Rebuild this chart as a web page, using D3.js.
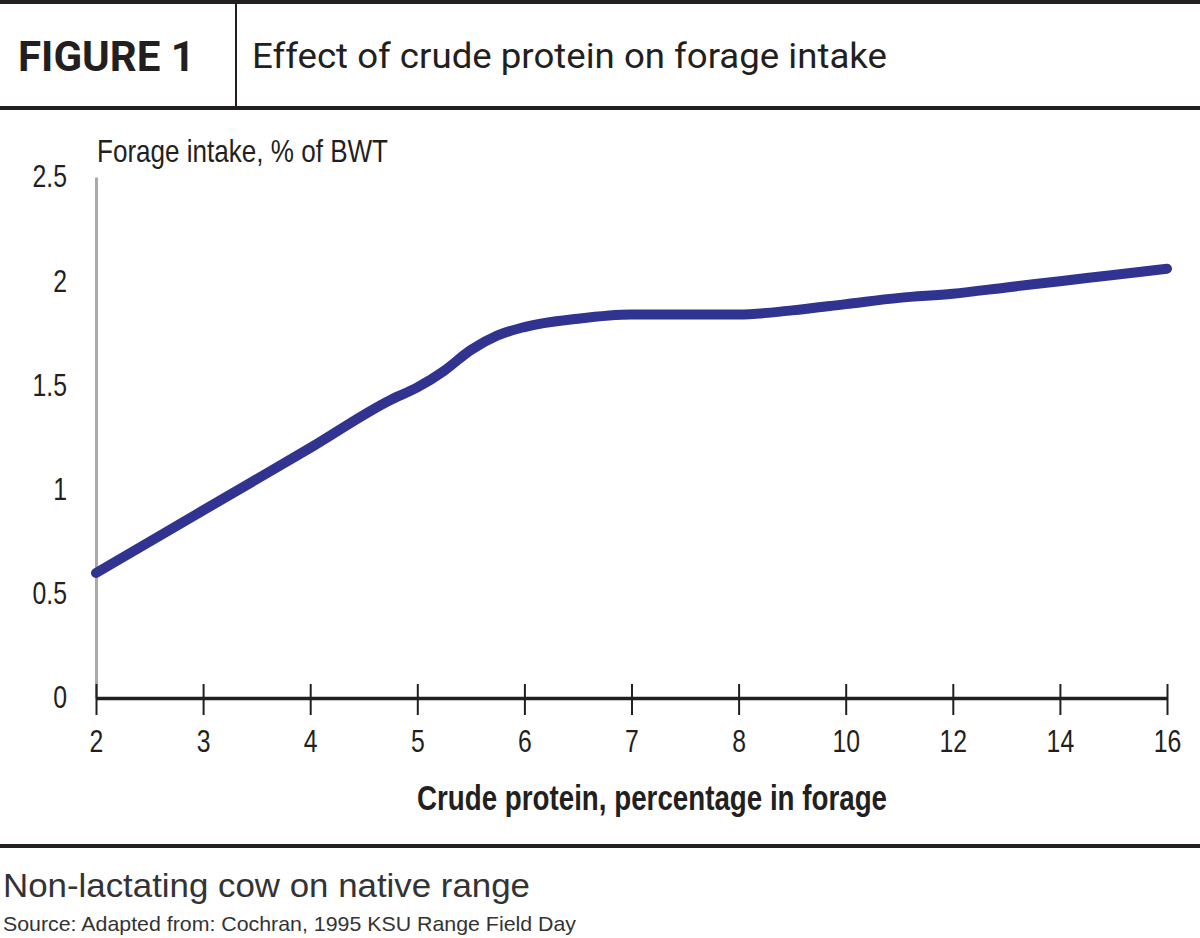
<!DOCTYPE html>
<html>
<head>
<meta charset="utf-8">
<script src="https://cdn.jsdelivr.net/npm/d3@7"></script>
<style>
  html, body { margin: 0; padding: 0; background: #fff; }
  svg { display: block; }
</style>
</head>
<body>
<svg id="chart" width="1200" height="938"></svg>
<script>
// ---- data ----
const xTickValues = [2, 3, 4, 5, 6, 7, 8, 10, 12, 14, 16];
const yTickValues = [0, 0.5, 1, 1.5, 2, 2.5];
const crudeProtein = [2, 3, 4, 4.75, 5, 5.25, 5.5, 5.75, 6, 6.5, 7, 7.75, 8, 9, 10, 11, 12, 13, 14, 15, 16];
const forageIntake = [0.60, 0.90, 1.20, 1.43, 1.49, 1.57, 1.67, 1.74, 1.78, 1.82, 1.84, 1.84, 1.84, 1.86, 1.89, 1.92, 1.94, 1.97, 2.00, 2.03, 2.06];

const figureLabel = "FIGURE 1";
const titleText = "Effect of crude protein on forage intake";
const yAxisTitle = "Forage intake, % of BWT";
const xAxisTitle = "Crude protein, percentage in forage";
const noteText = "Non-lactating cow on native range";
const sourceText = "Source: Adapted from: Cochran, 1995 KSU Range Field Day";

// ---- layout ----
const svg = d3.select("#chart");
const ink = "#231f20";
const lineColor = "#313391";
const narrow = "'Liberation Sans Narrow', 'Liberation Sans', Arial, sans-serif";

const plotLeft = 96, plotRight = 1167, plotTop = 177, plotBottom = 698;

// evenly spaced categorical-like positions for the protein ticks
const x = d3.scaleLinear()
  .domain(xTickValues)
  .range(xTickValues.map((d, i) => plotLeft + i * (plotRight - plotLeft) / (xTickValues.length - 1)));
const y = d3.scaleLinear().domain([0, 2.5]).range([plotBottom, plotTop]);

function condense(sel, factor) {
  sel.each(function () {
    const len = this.getComputedTextLength();
    d3.select(this).attr("textLength", len * factor).attr("lengthAdjust", "spacingAndGlyphs");
  });
}

// ---- header ----
svg.append("line").attr("x1", 0).attr("x2", 1200).attr("y1", 2).attr("y2", 2)
  .attr("stroke", ink).attr("stroke-width", 4);
svg.append("line").attr("x1", 0).attr("x2", 1200).attr("y1", 108).attr("y2", 108)
  .attr("stroke", ink).attr("stroke-width", 4);
svg.append("line").attr("x1", 236).attr("x2", 236).attr("y1", 4).attr("y2", 106)
  .attr("stroke", ink).attr("stroke-width", 2);

svg.append("text").attr("x", 18).attr("y", 71)
  .attr("font-family", "Roboto, sans-serif").attr("font-weight", 700)
  .attr("font-size", 43).attr("fill", ink)
  .attr("textLength", 177).attr("lengthAdjust", "spacingAndGlyphs")
  .text(figureLabel);

svg.append("text").attr("x", 252).attr("y", 68)
  .attr("font-family", "Roboto, sans-serif").attr("font-weight", 400)
  .attr("font-size", 35).attr("fill", ink)
  .attr("textLength", 635).attr("lengthAdjust", "spacingAndGlyphs")
  .text(titleText);

// ---- axes ----
const yAxis = svg.append("g")
  .attr("transform", `translate(${plotLeft},0)`)
  .call(d3.axisLeft(y).tickValues(yTickValues).tickSize(0).tickPadding(29).tickFormat(d => String(d)));
yAxis.select(".domain").attr("stroke", "#aaaaaa").attr("stroke-width", 3);
yAxis.selectAll(".tick text")
  .attr("font-family", narrow).attr("font-size", 31).attr("fill", ink)
  .call(condense, 0.8);

const xAxis = svg.append("g")
  .attr("transform", `translate(0,${plotBottom})`)
  .call(d3.axisBottom(x).tickValues(xTickValues).tickSizeOuter(0).tickFormat(d => String(d)));
xAxis.select(".domain").attr("stroke", ink).attr("stroke-width", 3.5);
xAxis.selectAll(".tick line").attr("y1", -14).attr("y2", 17)
  .attr("stroke", ink).attr("stroke-width", 2);
xAxis.selectAll(".tick text")
  .attr("y", 43).attr("dy", "0.35em")
  .attr("font-family", narrow).attr("font-size", 31).attr("fill", ink)
  .call(condense, 0.8);

// axis titles
svg.append("text").attr("x", 97).attr("y", 162)
  .attr("font-family", narrow).attr("font-size", 32).attr("fill", ink)
  .attr("textLength", 291).attr("lengthAdjust", "spacingAndGlyphs")
  .text(yAxisTitle);

svg.append("text").attr("x", 417).attr("y", 810)
  .attr("font-family", narrow).attr("font-weight", 700).attr("font-size", 35).attr("fill", ink)
  .attr("textLength", 470).attr("lengthAdjust", "spacingAndGlyphs")
  .text(xAxisTitle);

// ---- series line ----
const pts = crudeProtein.map((p, i) => [p, forageIntake[i]]);
const lineGen = d3.line()
  .x(d => x(d[0]))
  .y(d => y(d[1]))
  .curve(d3.curveMonotoneX);
svg.append("path")
  .datum(pts)
  .attr("d", lineGen)
  .attr("fill", "none")
  .attr("stroke", lineColor)
  .attr("stroke-width", 10)
  .attr("stroke-linecap", "round")
  .attr("stroke-linejoin", "round");

// ---- footer ----
svg.append("line").attr("x1", 0).attr("x2", 1200).attr("y1", 846).attr("y2", 846)
  .attr("stroke", ink).attr("stroke-width", 4);

svg.append("text").attr("x", 3).attr("y", 897)
  .attr("font-family", "'Liberation Sans', Arial, sans-serif").attr("font-size", 34).attr("fill", "#333")
  .attr("textLength", 527).attr("lengthAdjust", "spacingAndGlyphs")
  .text(noteText);

svg.append("text").attr("x", 3).attr("y", 931)
  .attr("font-family", "'Liberation Sans', Arial, sans-serif").attr("font-size", 21).attr("fill", "#333")
  .attr("textLength", 573).attr("lengthAdjust", "spacingAndGlyphs")
  .text(sourceText);
</script>
</body>
</html>
